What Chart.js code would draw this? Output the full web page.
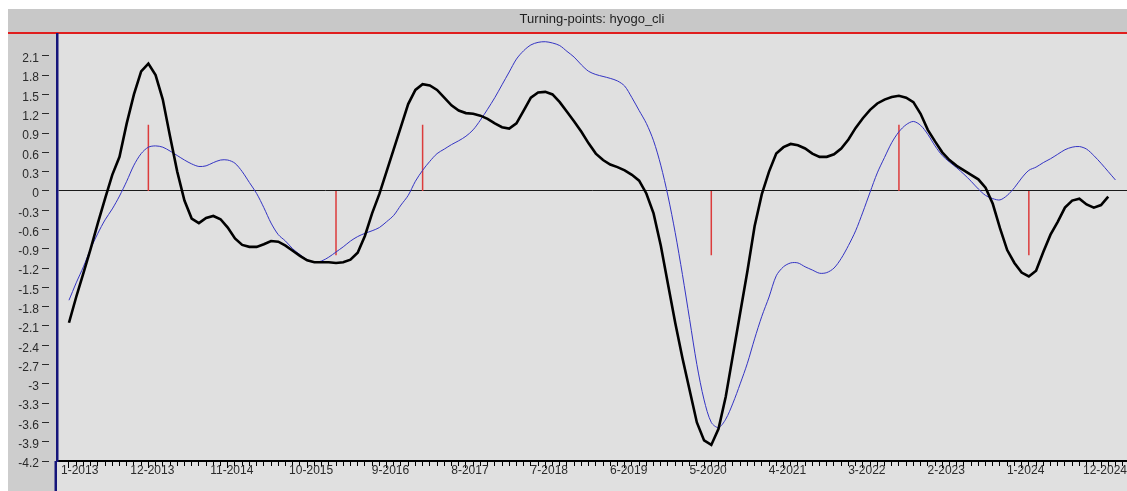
<!DOCTYPE html>
<html>
<head>
<meta charset="utf-8">
<title>Turning-points: hyogo_cli</title>
<script src="https://cdn.jsdelivr.net/npm/chart.js@4/dist/chart.umd.min.js"></script>
<style>
  html, body { margin: 0; padding: 0; background: #fff; }
  canvas { display: block; }
</style>
</head>
<body>
<canvas id="tpChart" width="1127" height="491"></canvas>
<script>
// month labels shown on the x axis, one every 11 months starting 1-2013
const xTickLabels = ['1-2013', '12-2013', '11-2014', '10-2015', '9-2016', '8-2017', '7-2018',
    '6-2019', '5-2020', '4-2021', '3-2022', '2-2023', '1-2024', '12-2024'];
const labelStep = 11;

const yTickValues = [2.1, 1.8, 1.5, 1.2, 0.9, 0.6, 0.3, 0, -0.3, -0.6, -0.9, -1.2, -1.5, -1.8,
    -2.1, -2.4, -2.7, -3, -3.3, -3.6, -3.9, -4.2];

// cli series (thick black), one value per month from 1-2013
const cliValues = [
    -2.05, -1.65, -1.28, -0.90, -0.50, -0.12, 0.25, 0.53, 1.05, 1.50, 1.86, 1.98,
    1.80, 1.42, 0.85, 0.30, -0.15, -0.43, -0.50, -0.42, -0.39, -0.44, -0.57, -0.74,
    -0.84, -0.87, -0.87, -0.83, -0.78, -0.79, -0.85, -0.93, -1.01, -1.08, -1.11, -1.11,
    -1.11, -1.12, -1.11, -1.07, -0.96, -0.70, -0.35, -0.05, 0.30, 0.65, 1.00, 1.35,
    1.57, 1.66, 1.64, 1.57, 1.45, 1.33, 1.25, 1.21, 1.20, 1.17, 1.12, 1.05,
    0.99, 0.97, 1.05, 1.25, 1.45, 1.53, 1.54, 1.50, 1.38, 1.23, 1.08, 0.92,
    0.74, 0.58, 0.48, 0.41, 0.37, 0.32, 0.25, 0.16, -0.04, -0.35, -0.85, -1.45,
    -2.05, -2.60, -3.10, -3.60, -3.88, -3.95, -3.70, -3.20, -2.55, -1.90, -1.25, -0.55,
    -0.05, 0.30, 0.58, 0.68, 0.73, 0.71, 0.66, 0.58, 0.53, 0.53, 0.57, 0.66,
    0.80, 0.98, 1.13, 1.26, 1.36, 1.42, 1.46, 1.48, 1.45, 1.38, 1.20, 0.95,
    0.77, 0.60, 0.48, 0.39, 0.32, 0.25, 0.18, 0.05, -0.20, -0.58, -0.92, -1.12,
    -1.27, -1.33, -1.24, -0.95, -0.68, -0.48, -0.26, -0.15, -0.12, -0.21, -0.26, -0.22,
    -0.09
];

// reference series (thin blue)
const refValues = [
    -1.70, -1.43, -1.18, -0.90, -0.66, -0.45, -0.28, -0.08, 0.15, 0.40, 0.58, 0.68,
    0.70, 0.68, 0.62, 0.55, 0.48, 0.42, 0.38, 0.39, 0.44, 0.48, 0.48, 0.43,
    0.30, 0.13, -0.04, -0.26, -0.50, -0.68, -0.78, -0.90, -0.99, -1.07, -1.11, -1.09,
    -1.03, -0.95, -0.87, -0.78, -0.71, -0.66, -0.62, -0.57, -0.48, -0.38, -0.22, -0.07,
    0.15, 0.32, 0.46, 0.58, 0.65, 0.72, 0.78, 0.85, 0.95, 1.10, 1.27, 1.45,
    1.65, 1.85, 2.05, 2.18, 2.27, 2.31, 2.32, 2.30, 2.26, 2.17, 2.08, 1.96,
    1.86, 1.81, 1.78, 1.75, 1.71, 1.63, 1.45, 1.25, 1.05, 0.78, 0.40, -0.08,
    -0.65, -1.30, -2.00, -2.70, -3.25, -3.60, -3.68, -3.55, -3.30, -3.00, -2.68, -2.30,
    -1.95, -1.65, -1.32, -1.18, -1.12, -1.12, -1.18, -1.23, -1.28, -1.27, -1.20, -1.05,
    -0.85, -0.62, -0.33, -0.02, 0.28, 0.52, 0.75, 0.92, 1.03, 1.08, 1.02, 0.88,
    0.70, 0.55, 0.45, 0.36, 0.26, 0.15, 0.03, -0.07, -0.12, -0.14, -0.07, 0.05,
    0.20, 0.32, 0.37, 0.44, 0.50, 0.57, 0.64, 0.68, 0.69, 0.65, 0.55, 0.43,
    0.30, 0.17
];

// turning points: month index and marker height (peak up, trough down)
const turningIdx = [11, 37, 49, 89, 115, 133];
const turningVal = [1.03, -1.0, 1.03, -1.0, 1.03, -1.0];

const lastTick = 146;

const cliData = cliValues.map((v, i) => ({ x: i, y: v }));
const refData = refValues.map((v, i) => ({ x: i, y: v }));
const tpData = [];
turningIdx.forEach((idx, i) => {
    tpData.push({ x: idx, y: 0 });
    tpData.push({ x: idx, y: turningVal[i] });
    tpData.push({ x: idx, y: null });   // break between markers
});

const bgPlugin = {
    id: 'bgPlugin',
    beforeDraw(chart) {
        const c = chart.ctx;
        const a = chart.chartArea;
        const W = chart.width, H = chart.height;
        c.save();
        c.fillStyle = '#ffffff';
        c.fillRect(0, 0, W, H);
        c.fillStyle = '#c8c8c8';   // title bar
        c.fillRect(8, 9, W - 8, a.top - 9);
        c.fillStyle = '#cdcdcd';   // left axis strip
        c.fillRect(8, a.top, a.left - 8, H - a.top);
        c.fillStyle = '#e0e0e0';   // plot + x label area
        c.fillRect(a.left, a.top, W - a.left, H - a.top);
        c.fillStyle = '#e01e1e';   // red rule under title
        c.fillRect(8, a.top - 2, W - 8, 2);
        c.restore();
    },
    afterDraw(chart) {
        // the navy axis line runs on down to the bottom edge
        const c = chart.ctx;
        const a = chart.chartArea;
        c.save();
        c.strokeStyle = '#15157a';
        c.lineWidth = 2.5;
        c.beginPath();
        c.moveTo(a.left - 1.25, a.bottom);
        c.lineTo(a.left - 1.25, chart.height);
        c.stroke();
        c.restore();
    }
};

const ctx = document.getElementById('tpChart').getContext('2d');
const tpChart = new Chart(ctx, {
    type: 'line',
    data: {
        datasets: [
            {
                label: 'hyogo_cli',
                data: cliData,
                borderColor: '#000000',
                borderWidth: 2.6,
                pointRadius: 0,
                tension: 0
            },
            {
                label: 'reference',
                data: refData,
                borderColor: '#3434c4',
                borderWidth: 1,
                pointRadius: 0,
                tension: 0.3
            },
            {
                label: 'turning points',
                data: tpData,
                borderColor: '#dc3c3c',
                borderWidth: 1.5,
                pointRadius: 0,
                spanGaps: false
            }
        ]
    },
    options: {
        responsive: false,
        animation: false,
        devicePixelRatio: 1,
        layout: { padding: { left: 8, top: 0, right: 0, bottom: 0 } },
        plugins: {
            legend: { display: false },
            tooltip: { enabled: false },
            title: {
                display: true,
                fullSize: false,
                text: 'Turning-points: hyogo_cli',
                color: '#1e1e1e',
                font: { family: '"Liberation Sans", Arial, sans-serif', size: 13, weight: 'normal', lineHeight: 1.2 },
                padding: { top: 12, bottom: 6.4 }
            }
        },
        scales: {
            x: {
                type: 'linear',
                min: -1.66,
                max: 146.6,
                offset: false,
                afterBuildTicks(scale) {
                    const t = [];
                    for (let i = 0; i <= lastTick; i++) t.push({ value: i });
                    scale.ticks = t;
                },
                afterFit(scale) { scale.height = 30; },
                border: { display: true, color: '#000000', width: 2 },
                grid: {
                    offset: false,
                    drawOnChartArea: false,
                    drawTicks: true,
                    tickLength: 7,
                    tickWidth: 1,
                    tickColor: '#000000',
                    tickBorderDash: (c) => (c.tick && c.tick.value % labelStep === 0) ? [] : [4, 30]
                },
                ticks: {
                    autoSkip: false,
                    maxRotation: 0,
                    minRotation: 0,
                    padding: -5,
                    labelOffset: 4,
                    color: '#2a2a2a',
                    font: { family: '"Liberation Sans", Arial, sans-serif', size: 12 },
                    callback: (v) => {
                        if (v % labelStep !== 0) return '';
                        const lbl = xTickLabels[v / labelStep] || '';
                        // first label sits clear of the axis line
                        return v === 0 ? '    ' + lbl : lbl;
                    }
                }
            },
            y: {
                type: 'linear',
                min: -4.2,
                max: 2.44,
                afterBuildTicks(scale) {
                    scale.ticks = yTickValues.map(v => ({ value: v }));
                },
                afterFit(scale) { scale.width = 49; },
                border: { display: true, color: '#15157a', width: 2.5 },
                grid: {
                    drawOnChartArea: true,
                    color: (c) => (c.tick && c.tick.value === 0) ? '#1a1a1a' : 'rgba(0,0,0,0)',
                    lineWidth: 1,
                    drawTicks: true,
                    tickLength: 15,
                    tickColor: '#2a2a2a',
                    tickWidth: 1,
                    tickBorderDash: [7, 30]
                },
                ticks: {
                    padding: 3,
                    labelOffset: 3,
                    color: '#2a2a2a',
                    font: { family: '"Liberation Sans", Arial, sans-serif', size: 12 },
                    callback: (v) => String(Math.round(v * 10) / 10)
                }
            }
        }
    },
    plugins: [bgPlugin]
});
</script>
</body>
</html>
